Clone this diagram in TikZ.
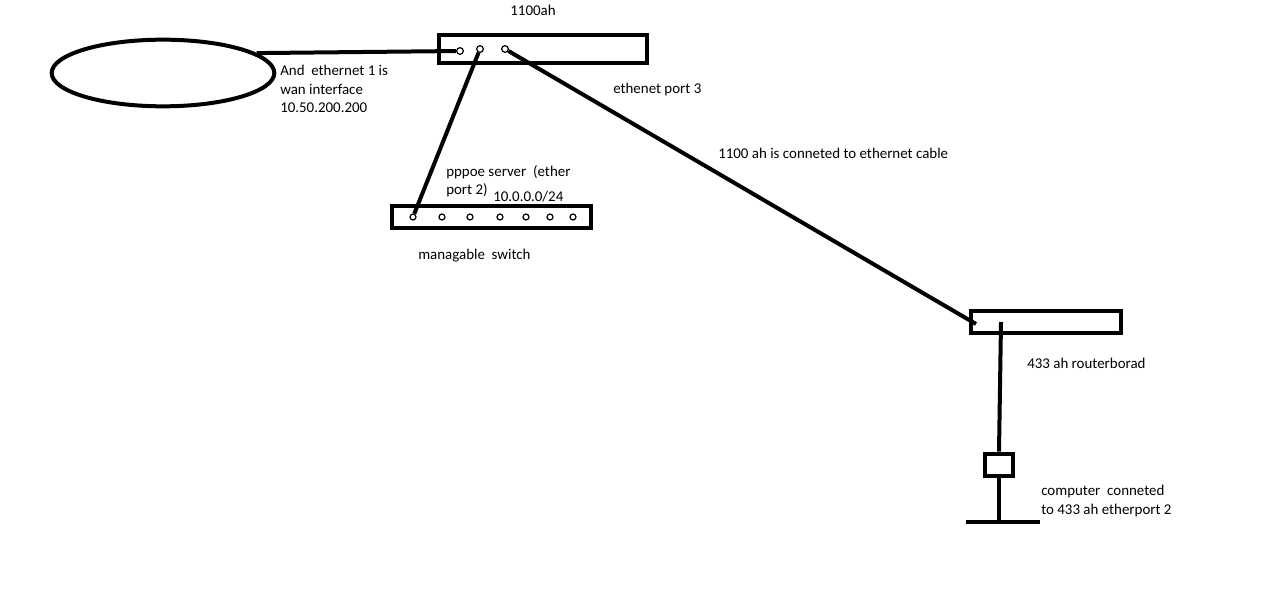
\documentclass[tikz,border=0pt]{standalone}
\usepackage{fontspec}
\setmainfont{Carlito}
\usetikzlibrary{shapes.geometric, positioning}

\begin{document}
\begin{tikzpicture}[x=0.75pt, y=-0.75pt,
                box/.style={draw, line width=3pt, inner sep=0pt},
                port/.style={circle, draw, line width=0.9pt, inner sep=0pt, minimum size=5pt},
                cable/.style={line width=3pt},
                lbl/.style={anchor=west, inner sep=0pt, align=left,
                            font=\fontsize{11.2}{13.6}\selectfont}]
        \useasboundingbox (0,0) rectangle (1274,591);

        %----------------  wan  ----------------
        \node[ellipse, box, minimum width=167pt, minimum height=50pt] (cloud) at (163,73) {};

        %----------------  1100ah  ----------------
        \node[box, minimum width=156pt, minimum height=21pt] (r1100) at (542.5,49) {};
        \node[port] (p1) at (460,51) {};
        \node[port] (p2) at (480,49) {};
        \node[port] (p3) at (505,49) {};

        %----------------  switch  ----------------
        \node[box, minimum width=149pt, minimum height=17pt] (sw) at (491.5,217) {};
        \foreach \i/\x in {1/413,2/442,3/470,4/500,5/526,6/550,7/573}
            \node[port, minimum size=4.5pt] (s\i) at (\x,217) {};

        %----------------  433 ah  ----------------
        \node[box, minimum width=112pt, minimum height=16pt] (r433) at (1046,322) {};
        \coordinate (rbin) at (976,324);
        \coordinate (rbout) at (1001,322);

        %----------------  computer  ----------------
        \node[box, minimum width=21pt, minimum height=17pt] (pc) at (999,465) {};
        \coordinate (foot) at (999,522);
        \coordinate (footl) at (966,522);
        \coordinate (footr) at (1040,522);

        \path[cable]
        (cloud.12) edge (p1)
        (p2) edge (s1)
        (p3) edge (rbin)
        (rbout) edge (pc.north)
        (pc.south) edge (foot)
        (footl) edge (footr);

        %----------------  labels  ----------------
        \node[lbl, anchor=center] (t1100) at (533,10) {1100ah};
        \node[lbl] (twan) at (280,89) {And\ \ ethernet 1 is\\wan interface\\10.50.200.200};
        \node[lbl] (tport3) at (613,90) {ethenet port 3};
        \node[lbl] (tcable) at (718,153) {1100 ah is conneted to ethernet cable};
        \node[lbl] (tpppoe) at (446,181) {pppoe server\ \ (ether\\port 2)};
        \node[lbl] (tnet) at (493,197) {10.0.0.0/24};
        \node[lbl] (tsw) at (418,256) {managable\ \ switch};
        \node[lbl] (t433) at (1027,363) {433 ah routerborad};
        \node[lbl] (tpc) at (1041,501) {computer\ \ conneted\\to 433 ah etherport 2};
\end{tikzpicture}
\end{document}
